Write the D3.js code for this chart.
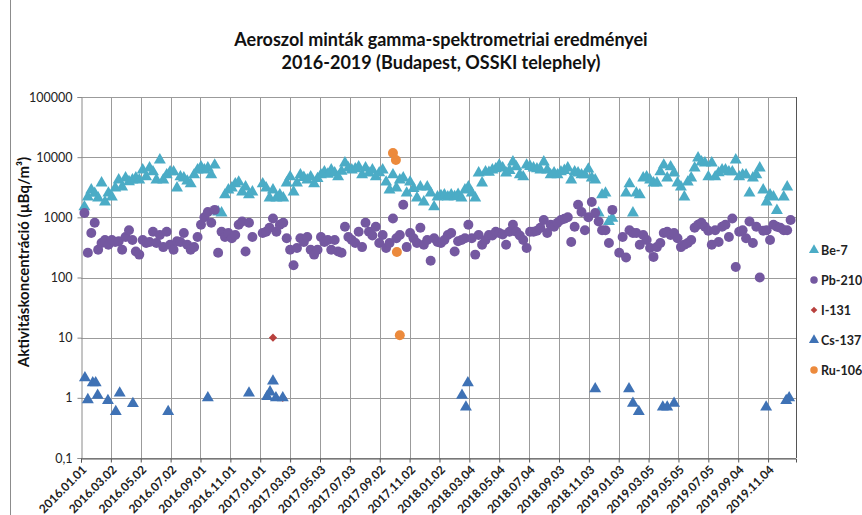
<!DOCTYPE html>
<html><head><meta charset="utf-8">
<script src="https://cdn.jsdelivr.net/npm/d3@7"></script>
<style>body{margin:0;background:#fff}svg{display:block}text{font-family:Lato,"Open Sans",sans-serif}</style>
</head><body>
<svg id="c" width="862" height="515"></svg>
<script>
// ---------- data ----------
const titleLines = ["Aeroszol minták gamma-spektrometriai eredményei", "2016-2019 (Budapest, OSSKI telephely)"];
const yTitle = "Aktivitáskoncentráció (µBq/m³)";
const xTickLabels = ["2016.01.01","2016.03.02","2016.05.02","2016.07.02","2016.09.01","2016.11.01",
  "2017.01.01","2017.03.03","2017.05.03","2017.07.03","2017.09.02","2017.11.02",
  "2018.01.02","2018.03.04","2018.05.04","2018.07.04","2018.09.03","2018.11.03",
  "2019.01.03","2019.03.05","2019.05.05","2019.07.05","2019.09.04","2019.11.04"];
const xDomain = ["2016.01.01","2019.12.31"];
const yTicks = [0.1, 1, 10, 100, 1000, 10000, 100000];
const seriesNames = ["Be-7","Pb-210","I-131","Cs-137","Ru-106"];
// weekly aerosol samples, first one on:
const firstSample = "2016.01.08";
const be7 = [1490,2180,2850,2500,2100,3720,1800,2530,2180,3070,
 4180,3200,4500,3900,4180,4500,4180,6130,4700,6600,
 5700,4180,8970,4180,5080,5700,5700,3070,4700,4500,
 4000,3600,5080,6130,6900,6130,6600,5080,7400,1230,
 1180,2360,2850,3070,3600,3850,2640,3200,2360,2640,
 null,null,3600,3070,2100,2850,2100,2360,2100,3720,
 4700,2640,3720,5080,4600,4180,4700,3600,4400,5080,
 5700,5200,6130,5470,4700,5800,8000,6600,6130,6400,
 6900,5080,6600,5470,6130,4700,5500,6130,3850,2850,
 5080,3070,4180,4500,2530,3850,3000,2100,3200,1800,
 3200,2530,1490,2180,2300,2360,2180,2360,2200,2400,
 2100,2850,3200,2530,2100,5470,3720,5700,5600,6130,
 6400,7400,6600,5470,6000,8320,6900,5080,4700,7400,
 7000,6600,6400,6130,8320,6130,5080,5500,5080,5700,
 6000,6600,4180,5700,5470,5080,5080,6340,4500,4180,
 1180,2360,2530,850,960,null,null,null,2530,3600,
 1180,2530,2360,4500,4700,4180,3720,3720,5700,7400,
 4500,6900,5470,3720,3200,2180,3850,4500,6600,9700,
 8320,8000,4700,8000,4700,5500,6130,6130,5700,5700,
 8970,4700,5080,5080,2530,4500,5080,6600,2850,1800,
 2360,2180,1300,null,2180,3200,null];
const pb210 = [1180,257,550,810,290,375,420,350,420,390,
 400,290,470,610,420,270,240,420,375,390,
 575,375,510,320,575,350,290,400,390,550,
 350,290,320,470,750,1000,1230,810,1330,257,
 575,470,550,450,510,750,850,270,810,470,
 null,null,550,575,670,960,575,750,810,450,
 290,160,310,450,390,470,290,240,290,470,
 390,420,290,420,270,257,700,470,420,375,
 575,320,810,575,500,700,375,510,310,375,
 960,450,510,1620,320,550,450,375,670,350,
 420,190,450,390,375,420,510,550,270,400,
 420,450,750,450,240,510,350,420,510,500,
 575,550,520,350,575,750,575,500,420,310,
 575,575,600,670,900,550,750,700,810,900,
 950,1000,390,700,1620,1230,610,1000,1800,1180,
 850,610,610,375,1330,null,257,470,215,610,
 550,550,350,510,420,310,220,320,375,550,
 575,510,550,450,320,350,375,420,670,750,
 810,700,600,350,610,390,700,750,470,960,
 150,575,610,450,850,375,700,100,600,610,
 420,750,700,670,610,610,900];
const i131Dates = ["2017.01.27","2017.02.16"];
const i131 = [10, 1.0];
const cs137Dates = ["2016.01.09","2016.01.15","2016.01.25","2016.01.31","2016.02.04","2016.02.25","2016.03.12","2016.03.20","2016.04.16","2016.06.27",
 "2016.09.16","2016.12.09","2017.01.15","2017.01.21","2017.01.27","2017.02.02","2017.02.16",
 "2018.02.17","2018.02.25","2018.03.01","2018.11.16","2019.01.24","2019.02.01","2019.02.13",
 "2019.04.03","2019.04.12","2019.04.26","2019.10.31","2019.12.11","2019.12.17"];
const cs137 = [2.15,0.93,1.77,1.77,1.1,0.9,0.59,1.2,0.8,0.59,
 1.0,1.2,1.05,1.25,1.9,1.0,1.0,
 1.1,0.7,1.77,1.41,1.41,0.81,0.59,
 0.7,0.7,0.81,0.7,0.9,1.0];
const ru106Dates = ["2017.09.29","2017.10.05","2017.10.07","2017.10.13"];
const ru106 = [11700, 9000, 265, 11];

// ---------- setup ----------
const parse = d3.timeParse("%Y.%m.%d");
const svg = d3.select("#c");
const M = {l:81, r:796, t:97, b:458};
const x = d3.scaleTime().domain(xDomain.map(parse)).range([M.l, M.r]);
const y = d3.scaleLog().domain([0.1, 100000]).range([M.b, M.t]);
const colors = {"Be-7":"#4BACC6","Pb-210":"#7458A0","I-131":"#B8403D","Cs-137":"#3F72B5","Ru-106":"#EC8A3C"};
const shapes = {"Be-7":d3.symbolTriangle,"Pb-210":d3.symbolCircle,"I-131":d3.symbolSquare,"Cs-137":d3.symbolTriangle,"Ru-106":d3.symbolCircle};
const rot = {"I-131":45};
const sizes = {"Be-7":62,"Pb-210":78,"I-131":34,"Cs-137":62,"Ru-106":78};

// chart border (left)
svg.append("line").attr("x1",10.5).attr("x2",10.5).attr("y1",0).attr("y2",515).attr("stroke","#8c8c8c");

// title
svg.append("text").attr("x",441).attr("y",46).attr("text-anchor","middle").attr("font-size",18).attr("font-weight",700).attr("fill","#111").text(titleLines[0]);
svg.append("text").attr("x",441).attr("y",69).attr("text-anchor","middle").attr("font-size",18).attr("font-weight",700).attr("fill","#111").text(titleLines[1]);

// gridlines
const xTicks = xTickLabels.map(parse);
svg.append("g").selectAll("line").data(yTicks).join("line")
  .attr("x1",M.l).attr("x2",M.r).attr("y1",d=>Math.round(y(d))+0.5).attr("y2",d=>Math.round(y(d))+0.5)
  .attr("stroke","#9b9b9b");
svg.append("g").selectAll("line").data(xTicks.slice(1)).join("line")
  .attr("x1",d=>Math.round(x(d))+0.5).attr("x2",d=>Math.round(x(d))+0.5).attr("y1",M.t).attr("y2",M.b)
  .attr("stroke","#9b9b9b");

// y axis
const yAxis = d3.axisLeft(y).tickValues(yTicks).tickSize(4).tickPadding(5)
  .tickFormat(d=>String(d).replace(".",","));
const gy = svg.append("g").attr("transform",`translate(${M.l+0.5},0)`).call(yAxis);
gy.select(".domain").attr("stroke","#8a8a8a");
gy.selectAll(".tick line").attr("stroke","#8a8a8a");
gy.selectAll(".tick text").attr("font-size",12.5).attr("fill","#222").style("font-family","Lato");

// x axis
const xAxis = d3.axisBottom(x).tickValues(xTicks).tickSize(4).tickFormat(d3.timeFormat("%Y.%m.%d"));
const gx = svg.append("g").attr("transform",`translate(0,${M.b+0.5})`).call(xAxis);
gx.select(".domain").attr("stroke","#555");
gx.selectAll(".tick line").attr("stroke","#555");
gx.selectAll(".tick text").attr("font-size",12).attr("font-weight",700).attr("fill","#222")
  .style("font-family","Lato").attr("text-anchor","end")
  .attr("transform","translate(3,9) rotate(-45)").attr("dy","0.35em").attr("y",0).attr("x",0);

// right border of plot area
svg.append("line").attr("x1",M.r+0.5).attr("x2",M.r+0.5).attr("y1",M.t).attr("y2",M.b).attr("stroke","#555");

// y title
svg.append("text").attr("transform","translate(29,262) rotate(-90)").attr("text-anchor","middle")
  .attr("font-size",15).attr("font-weight",700).attr("fill","#111").text(yTitle);

// ---------- series ----------
const start = parse(firstSample);
const weekly = arr => arr.map((v,i)=>({d:d3.timeDay.offset(start,7*i), v})).filter(p=>p.v!=null);
const listed = (ds,vs) => ds.map((s,i)=>({d:parse(s), v:vs[i]}));
const seriesData = {
  "Be-7": weekly(be7),
  "Pb-210": weekly(pb210),
  "I-131": listed(i131Dates,i131),
  "Cs-137": listed(cs137Dates,cs137),
  "Ru-106": listed(ru106Dates,ru106)
};
seriesNames.forEach(name=>{
  svg.append("g").selectAll("path").data(seriesData[name]).join("path")
    .attr("d", d3.symbol().type(shapes[name]).size(sizes[name]))
    .attr("transform", p=>`translate(${x(p.d)},${y(p.v)}) rotate(${rot[name]||0})`)
    .attr("fill", colors[name]);
});

// ---------- legend ----------
const lg = svg.append("g");
seriesNames.forEach((name,i)=>{
  const ly = 250 + i*30;
  lg.append("path").attr("d", d3.symbol().type(shapes[name]).size(name==="I-131"?22:44))
    .attr("transform",`translate(814,${ly}) rotate(${rot[name]||0})`).attr("fill",colors[name]);
  lg.append("text").attr("x",821).attr("y",ly+4.5).attr("font-size",12.5).attr("font-weight",700)
    .attr("fill","#222").text(name);
});
</script>
</body></html>
